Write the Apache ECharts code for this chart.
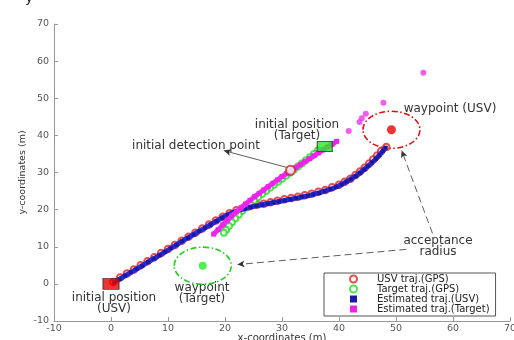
<!DOCTYPE html>
<html>
<head>
<meta charset="utf-8">
<script src="https://cdn.jsdelivr.net/npm/echarts@6/dist/echarts.min.js"></script>
<style>html,body{margin:0;padding:0;background:#fff;}#c{width:514px;height:340px;}</style>
</head>
<body>
<div id="c"></div>
<script>
// ---- data ----
var xTicks = [-10, 0, 10, 20, 30, 40, 50, 60, 70];
var yTicks = [-10, 0, 10, 20, 30, 40, 50, 60, 70];

var usvGps = [[0.4,0.5],[1.6,1.7],[2.8,2.8],[4.0,3.9],[5.2,5.0],[6.4,6.1],[7.6,7.2],[8.8,8.3],[10.0,9.4],[11.2,10.5],[12.4,11.6],[13.6,12.7],[14.8,13.8],[16.0,14.9],[17.2,16.0],[18.4,17.1],[19.6,18.1],[20.8,19.0],[22.0,19.8],[23.2,20.4],[24.4,20.9],[25.6,21.3],[26.8,21.6],[28.0,22.0],[29.2,22.4],[30.4,22.8],[31.6,23.1],[32.8,23.5],[34.0,23.9],[35.2,24.3],[36.4,24.8],[37.6,25.3],[38.8,26.0],[40.0,26.7],[41.0,27.5],[42.0,28.3],[42.9,29.3],[43.7,30.3],[44.5,31.3],[45.3,32.4],[46.0,33.5],[46.7,34.6],[47.4,35.8],[48.3,36.9]];

var targetGps = [[36.3,35.9],[35.6,35.0],[34.9,34.1],[34.2,33.3],[33.5,32.4],[32.8,31.6],[32.1,30.8],[31.4,29.9],[30.7,29.1],[30.0,28.3],[29.3,27.5],[28.6,26.7],[27.9,25.9],[27.2,25.0],[26.5,24.2],[25.8,23.3],[25.1,22.4],[24.4,21.5],[23.7,20.6],[23.0,19.6],[22.4,18.6],[21.8,17.6],[21.2,16.6],[20.7,15.6],[20.2,14.6],[19.8,13.8]];

var usvEst = [[0.5,0.4],[1.5,1.3],[2.5,2.2],[3.5,3.1],[4.5,4.0],[5.5,4.9],[6.5,5.9],[7.5,6.8],[8.5,7.7],[9.5,8.6],[10.5,9.6],[11.5,10.5],[12.5,11.5],[13.5,12.4],[14.5,13.3],[15.5,14.2],[16.5,15.1],[17.5,16.0],[18.5,16.9],[19.5,17.8],[20.5,18.6],[21.5,19.3],[22.5,19.9],[23.5,20.3],[24.5,20.7],[25.5,21.0],[26.5,21.3],[27.5,21.6],[28.5,21.9],[29.5,22.2],[30.5,22.5],[31.5,22.8],[32.5,23.1],[33.5,23.4],[34.5,23.7],[35.5,24.1],[36.5,24.5],[37.5,25.0],[38.5,25.5],[39.5,26.1],[40.5,26.8],[41.3,27.5],[42.1,28.2],[42.9,29.0],[43.7,29.9],[44.4,30.8],[45.1,31.7],[45.8,32.7],[46.5,33.7],[47.1,34.7],[47.7,35.8],[48.2,36.7]];

var targetEst = [[18.0,13.4],[18.8,14.6],[19.6,15.9],[20.4,17.1],[21.2,18.3],[22.0,19.4],[22.8,20.5],[23.6,21.5],[24.4,22.5],[25.2,23.5],[26.0,24.4],[26.8,25.3],[27.6,26.2],[28.4,27.1],[29.2,28.0],[30.0,28.9],[30.8,29.7],[31.6,30.5],[32.4,31.3],[33.2,32.1],[34.0,32.9],[34.8,33.7],[35.6,34.5],[36.4,35.3],[37.2,36.1],[38.0,36.9],[38.8,37.6],[39.6,38.4]];
var targetEstOutliers = [[41.7,41.2],[43.6,43.6],[44.0,44.6],[44.7,45.8],[47.8,48.8],[54.8,56.9]];

var usvStart = [0, 0];
var targetStart = [37.5, 37];
var detectionPoint = [31.5, 30.6];
var usvWaypoint = [49.2, 41.5];
var targetWaypoint = [16.1, 4.9];
var acceptRadius = 5;

var legendNames = ['USV traj.(GPS)', 'Target traj.(GPS)', 'Estimated traj.(USV)', 'Estimated traj.(Target)'];

var FONT = 'DejaVu Sans';

function circleItem(color) {
  return function (params, api) {
    var c = api.coord([api.value(0), api.value(1)]);
    var s = api.size([api.value(2), api.value(2)]);
    return {
      type: 'ellipse',
      shape: { cx: c[0], cy: c[1], rx: s[0], ry: s[1] },
      style: { fill: 'none', stroke: color, lineWidth: 1.6, lineDash: [6, 2.5, 1.5, 2.5] },
      silent: true
    };
  };
}

var chart = echarts.init(document.getElementById('c'), null, { renderer: 'canvas' });
chart.setOption({
  animation: false,
  backgroundColor: '#fff',
  grid: { left: 54, right: 4, top: 24, bottom: 19, containLabel: false, outerBoundsMode: 'none' },
  xAxis: {
    type: 'value', min: xTicks[0], max: xTicks[xTicks.length - 1], interval: 10,
    name: 'x-coordinates (m)', nameLocation: 'middle', nameGap: 12, nameMoveOverlap: false,
    nameTextStyle: { fontFamily: FONT, fontSize: 10, color: '#333' },
    axisLine: { show: true, onZero: false, lineStyle: { color: '#999', width: 1 } },
    axisTick: { show: true, inside: true, length: 4, lineStyle: { color: '#999' } },
    axisLabel: { fontFamily: FONT, fontSize: 9.5, color: '#555', margin: 3 },
    splitLine: { show: false }
  },
  yAxis: {
    type: 'value', min: yTicks[0], max: yTicks[yTicks.length - 1], interval: 10,
    name: 'y-coordinates (m)', nameLocation: 'middle', nameGap: 26, nameMoveOverlap: false,
    nameTextStyle: { fontFamily: FONT, fontSize: 9.5, color: '#333' },
    axisLine: { show: true, onZero: false, lineStyle: { color: '#999', width: 1 } },
    axisTick: { show: true, inside: true, length: 4, lineStyle: { color: '#999' } },
    axisLabel: { fontFamily: FONT, fontSize: 9.5, color: '#555', margin: 5 },
    splitLine: { show: false }
  },
  legend: {
    orient: 'vertical', left: 324, top: 273,
    padding: [1, 6, 2, 25], itemGap: 0, itemWidth: 7, itemHeight: 7,
    backgroundColor: '#fff', borderColor: '#555', borderWidth: 1,
    textStyle: { fontFamily: FONT, fontSize: 10, lineHeight: 9, color: '#222', padding: [0, 0, 0, 15] },
    data: [
      { name: legendNames[0], icon: 'emptyCircle' },
      { name: legendNames[1], icon: 'emptyCircle' },
      { name: legendNames[2], icon: 'rect' },
      { name: legendNames[3], icon: 'rect' }
    ],
    selectedMode: false
  },
  graphic: [
    { type: 'text', left: 25, top: -9, style: { text: 'y', font: '14px ' + FONT, fill: '#222' } },
    { type: 'text', x: 196, y: 146, style: { text: 'initial detection point', font: '12px ' + FONT, fill: '#333', textAlign: 'center', textVerticalAlign: 'middle' } },
    { type: 'text', x: 297, y: 125, style: { text: 'initial position', font: '12px ' + FONT, fill: '#333', textAlign: 'center', textVerticalAlign: 'middle' } },
    { type: 'text', x: 297, y: 136, style: { text: '(Target)', font: '12px ' + FONT, fill: '#333', textAlign: 'center', textVerticalAlign: 'middle' } },
    { type: 'text', x: 450, y: 109, style: { text: 'waypoint (USV)', font: '12px ' + FONT, fill: '#333', textAlign: 'center', textVerticalAlign: 'middle' } },
    { type: 'text', x: 114, y: 298, style: { text: 'initial position', font: '12px ' + FONT, fill: '#333', textAlign: 'center', textVerticalAlign: 'middle' } },
    { type: 'text', x: 114, y: 309, style: { text: '(USV)', font: '12px ' + FONT, fill: '#333', textAlign: 'center', textVerticalAlign: 'middle' } },
    { type: 'text', x: 202, y: 288, style: { text: 'waypoint', font: '12px ' + FONT, fill: '#333', textAlign: 'center', textVerticalAlign: 'middle' } },
    { type: 'text', x: 202, y: 299, style: { text: '(Target)', font: '12px ' + FONT, fill: '#333', textAlign: 'center', textVerticalAlign: 'middle' } },
    { type: 'text', x: 438, y: 241, style: { text: 'acceptance', font: '12px ' + FONT, fill: '#333', textAlign: 'center', textVerticalAlign: 'middle' } },
    { type: 'text', x: 438, y: 252, style: { text: 'radius', font: '12px ' + FONT, fill: '#333', textAlign: 'center', textVerticalAlign: 'middle' } }
  ],
  series: [
    {
      name: 'circles-usv', type: 'custom', renderItem: circleItem('#dd1111'),
      data: [[usvWaypoint[0], usvWaypoint[1], acceptRadius]], z: 2, silent: true
    },
    {
      name: 'circles-target', type: 'custom', renderItem: circleItem('#22cc22'),
      data: [[targetWaypoint[0], targetWaypoint[1], acceptRadius]], z: 2, silent: true
    },
    {
      name: legendNames[0], type: 'scatter', data: usvGps, symbol: 'emptyCircle', symbolSize: 6.5,
      itemStyle: { color: '#e02020', borderColor: '#e02020', borderWidth: 1.1 }, z: 3
    },
    {
      name: legendNames[1], type: 'scatter', data: targetGps, symbol: 'emptyCircle', symbolSize: 6,
      itemStyle: { color: '#22dd22', borderColor: '#22dd22', borderWidth: 1.4 }, z: 4
    },
    {
      name: legendNames[2], type: 'line', data: usvEst, symbol: 'rect', symbolSize: 4, showAllSymbol: true,
      lineStyle: { color: '#2a2ad8', width: 5 }, itemStyle: { color: '#1a1aa0' }, z: 5
    },
    {
      name: legendNames[3], type: 'line', data: targetEst, symbol: 'rect', symbolSize: 5, showAllSymbol: true,
      lineStyle: { color: '#f030f0', width: 5 }, itemStyle: { color: '#ee22ee' }, z: 6
    },
    {
      name: 'outliers', type: 'scatter', data: targetEstOutliers, symbol: 'circle', symbolSize: 6,
      itemStyle: { color: '#ee33ee' }, z: 6
    },
    {
      name: 'markers', type: 'scatter', z: 8,
      data: [
        { value: usvStart, symbol: 'rect', symbolSize: [16, 11], itemStyle: { color: '#ee0000', borderColor: '#333', borderWidth: 1 } },
        { value: targetStart, symbol: 'rect', symbolSize: [15, 10], itemStyle: { color: '#22ee22', borderColor: '#333', borderWidth: 1 } },
        { value: detectionPoint, symbol: 'emptyCircle', symbolSize: 9, itemStyle: { color: '#d02020', borderColor: '#d02020', borderWidth: 1.5 } },
        { value: usvWaypoint, symbol: 'circle', symbolSize: 9, itemStyle: { color: '#ee0000' } },
        { value: targetWaypoint, symbol: 'circle', symbolSize: 8, itemStyle: { color: '#22ee22' } }
      ],
      markLine: {
        silent: true, symbol: ['none', 'arrow'], symbolSize: [5, 7], precision: 2,
        label: { show: false },
        lineStyle: { color: '#333', width: 0.8, type: 'solid' },
        data: [
          [{ coord: [31.0, 31.3] }, { coord: [19.8, 35.9] }],
          [{ coord: [56.4, 13.6], lineStyle: { type: [7, 4] } }, { coord: [51.0, 35.9] }],
          [{ coord: [51.8, 9.3], lineStyle: { type: [7, 4] } }, { coord: [22.2, 5.2] }]
        ]
      }
    }
  ]
});
</script>
</body>
</html>
